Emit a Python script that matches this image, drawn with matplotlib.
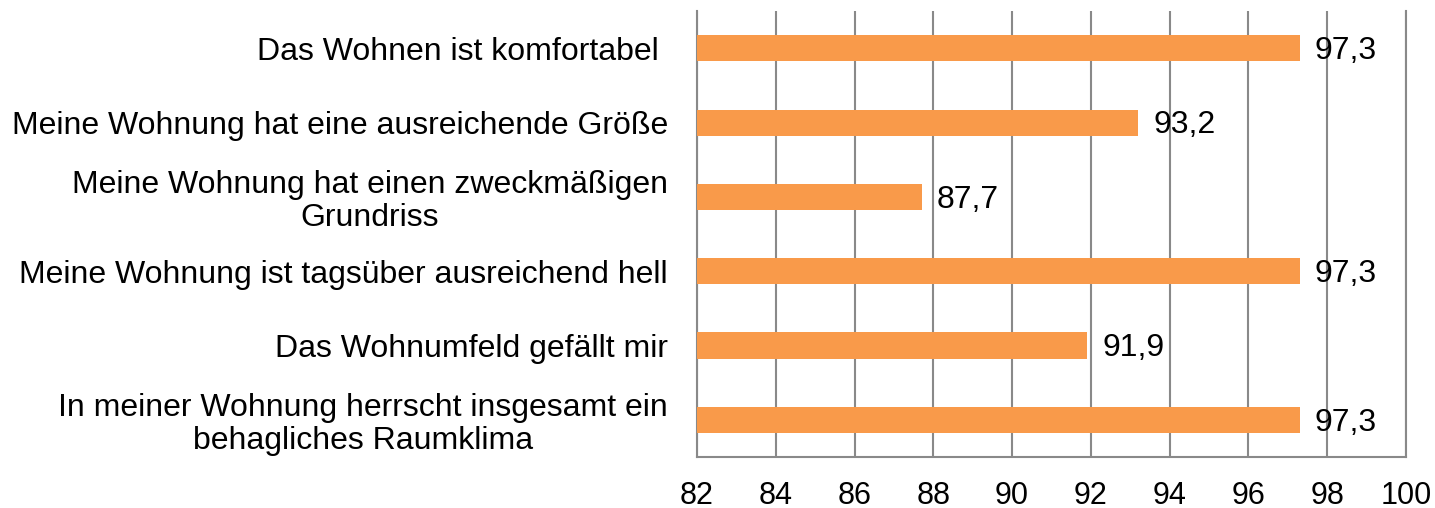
import matplotlib

matplotlib.use("Agg")
import matplotlib.pyplot as plt

plt.rcParams["font.family"] = ["Liberation Sans", "DejaVu Sans"]

# values, top to bottom as in the chart
categories = [
    "Das Wohnen ist komfortabel ",
    "Meine Wohnung hat eine ausreichende Größe",
    "Meine Wohnung hat einen zweckmäßigen\nGrundriss",
    "Meine Wohnung ist tagsüber ausreichend hell",
    "Das Wohnumfeld gefällt mir",
    "In meiner Wohnung herrscht insgesamt ein\nbehagliches Raumklima",
]
values = [97.3, 93.2, 87.7, 97.3, 91.9, 97.3]
x_ticks = [82, 84, 86, 88, 90, 92, 94, 96, 98, 100]

BAR_COLOR = "#F99A4A"
GRID_COLOR = "#898989"
FS = 23

fig = plt.figure(figsize=(14.35, 5.08), dpi=100)
ax = fig.add_axes([0.4857, 0.1004, 0.4941, 0.8779])

pos = list(range(len(categories)))
ax.barh(pos, [v - 82 for v in values], left=82, height=0.35, color=BAR_COLOR, zorder=3)
for y, v in zip(pos, values):
    ax.annotate(f"{v:.1f}".replace(".", ","), (v, y), xytext=(11, -2), textcoords="offset points",
                va="center", ha="left", fontsize=FS, zorder=4)

ax.set_xlim(82, 100)
ax.set_ylim(len(categories) - 0.5, -0.5)
ax.set_xticks(x_ticks)
ax.set_xticklabels([str(t) for t in x_ticks])
ax.set_yticks(pos)
ax.set_yticklabels(categories, multialignment="center", linespacing=1.1)
ax.tick_params(axis="x", length=0, pad=17, labelsize=22)
ax.tick_params(axis="y", length=0, pad=21, labelsize=FS)
ax.grid(axis="x", color=GRID_COLOR, linewidth=1.5, zorder=0)
ax.spines["top"].set_visible(False)
for side in ("left", "right", "bottom"):
    ax.spines[side].set_color(GRID_COLOR)
    ax.spines[side].set_linewidth(1.5)

fig.savefig("out.png", dpi=100)
